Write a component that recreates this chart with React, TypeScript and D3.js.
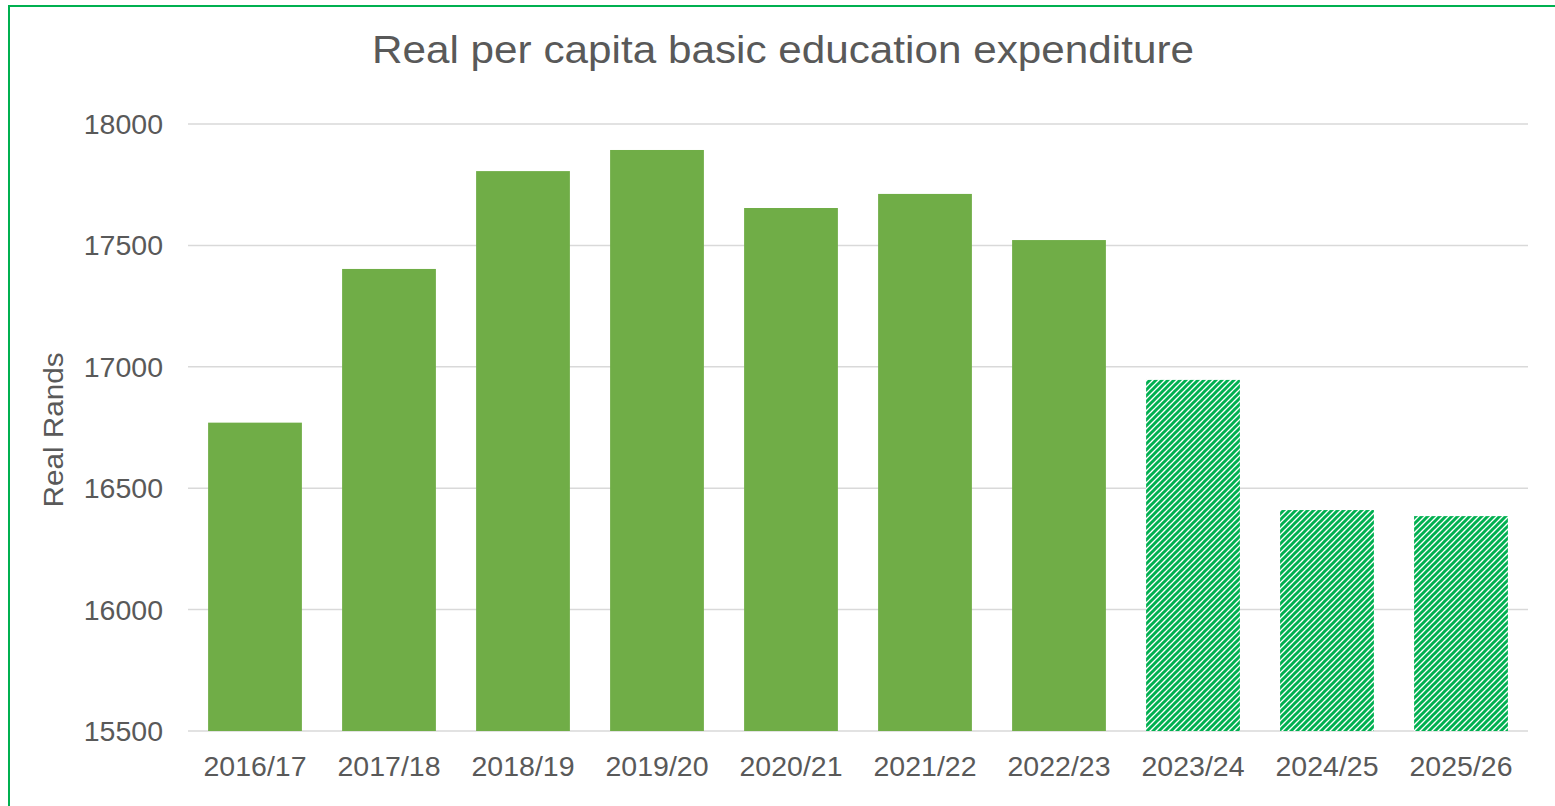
import React from "react";
import * as d3 from "d3";

const categories = ["2016/17", "2017/18", "2018/19", "2019/20", "2020/21", "2021/22", "2022/23", "2023/24", "2024/25", "2025/26"];
const values = [16770, 17403, 17806, 17893, 17654, 17712, 17522, 16946, 16410, 16385];
const projected = [false, false, false, false, false, false, false, true, true, true];
const yTicks = [15500, 16000, 16500, 17000, 17500, 18000];
const title = "Real per capita basic education expenditure";
const yTitle = "Real Rands";

export default function App() {
  const W = 1555, H = 806;
  const x = d3.scaleBand<string>().domain(categories).range([188, 1528]).paddingInner(0.3).paddingOuter(0.15);
  const y = d3.scaleLinear().domain([15500, 18000]).range([731, 124]);
  const font = "'Liberation Sans', Arial, sans-serif";
  const txt = "#595959";
  return (
    <svg width={W} height={H} style={{ position: "absolute", left: 0, top: 0 }} fontFamily={font}>
      <defs>
        <pattern id="hatch" patternUnits="userSpaceOnUse" width={6} height={6}>
          <rect width={6} height={6} fill="#fff" />
          <path d="M-1.5,1.5 L1.5,-1.5 M0,6 L6,0 M4.5,7.5 L7.5,4.5" stroke="#00B050" strokeWidth={3} />
        </pattern>
      </defs>
      <rect x={0} y={0} width={W} height={H} fill="#fff" />
      <rect x={9} y={6} width={W + 10} height={H + 10} fill="none" stroke="#00B050" strokeWidth={2} />
      <text x={783} y={63} textAnchor="middle" fontSize={38} fill={txt} textLength={822} lengthAdjust="spacingAndGlyphs">{title}</text>
      {yTicks.map((t) => (
        <g key={t}>
          <line x1={188} x2={1528} y1={y(t)} y2={y(t)} stroke="#D9D9D9" strokeWidth={1.5} />
          <text x={163} y={y(t) + 10} textAnchor="end" fontSize={28.5} fill={txt}>{t}</text>
        </g>
      ))}
      {categories.map((c, i) => (
        <g key={c}>
          <rect x={x(c)} y={y(values[i])} width={x.bandwidth()} height={y(15500) - y(values[i])} fill={projected[i] ? "url(#hatch)" : "#70AD47"} />
          <text x={(x(c) as number) + x.bandwidth() / 2} y={776} textAnchor="middle" fontSize={28.5} fill={txt}>{c}</text>
        </g>
      ))}
      <text transform={`translate(63,430) rotate(-90)`} textAnchor="middle" fontSize={27} fill={txt} textLength={155} lengthAdjust="spacingAndGlyphs">{yTitle}</text>
    </svg>
  );
}
